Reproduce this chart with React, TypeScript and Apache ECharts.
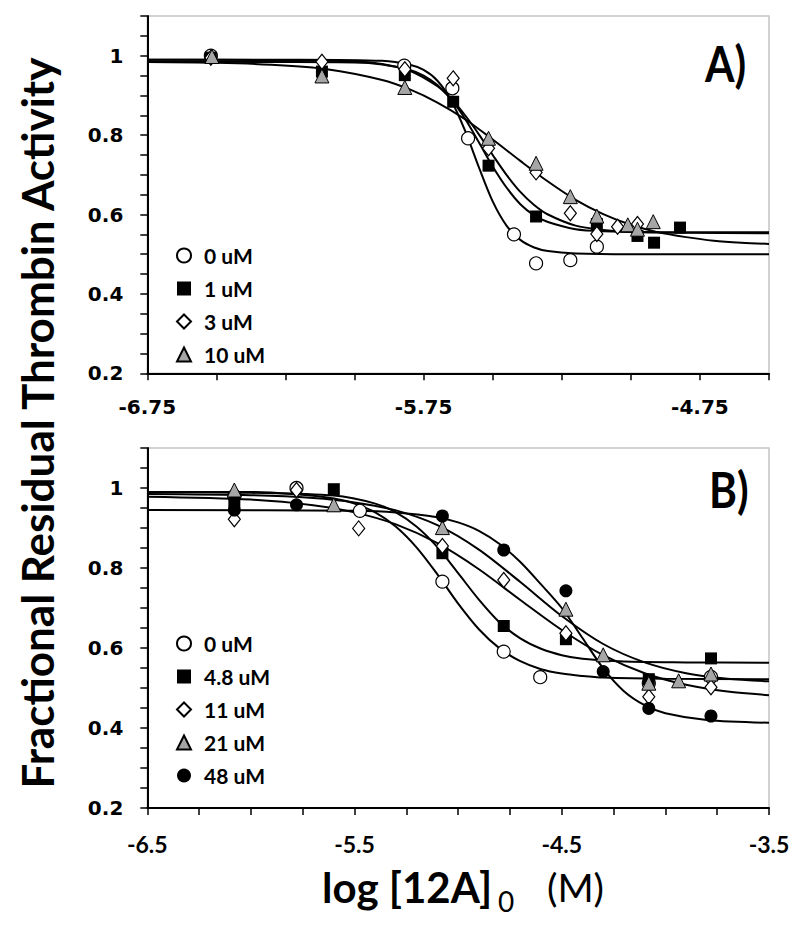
import React, { useEffect, useRef } from "react";
import * as echarts from "echarts";

// ---------- Panel A (x: log[12A]0, y: fractional activity) ----------
const A_0uM = [[-6.52, 1.0], [-5.82, 0.975], [-5.646, 0.918], [-5.589, 0.792], [-5.423, 0.55], [-5.343, 0.477], [-5.219, 0.485], [-5.123, 0.519]];
const A_1uM = [[-6.52, 0.995], [-6.118, 0.96], [-5.818, 0.951], [-5.643, 0.884], [-5.515, 0.723], [-5.343, 0.595], [-5.123, 0.576], [-4.976, 0.546], [-4.916, 0.529], [-4.822, 0.567]];
const A_3uM = [[-6.52, 0.995], [-6.118, 0.985], [-5.818, 0.966], [-5.643, 0.943], [-5.515, 0.767], [-5.343, 0.706], [-5.219, 0.603], [-5.123, 0.551], [-5.048, 0.569], [-4.976, 0.576]];
const A_10uM = [[-6.516, 0.998], [-6.118, 0.949], [-5.818, 0.92], [-5.515, 0.792], [-5.343, 0.729], [-5.219, 0.645], [-5.123, 0.596], [-5.011, 0.574], [-4.976, 0.563], [-4.919, 0.582]];

// fitted curves
const A_fit0 = [[-6.75, 0.99], [-6.2, 0.99], [-5.9, 0.987], [-5.8, 0.977], [-5.75, 0.964], [-5.7, 0.937], [-5.65, 0.887], [-5.6, 0.811], [-5.55, 0.719], [-5.5, 0.633], [-5.45, 0.572], [-5.4, 0.536], [-5.35, 0.517], [-5.3, 0.508], [-5.2, 0.502], [-5.0, 0.5], [-4.5, 0.5]];
const A_fit1 = [[-6.75, 0.985], [-6.3, 0.984], [-6.0, 0.983], [-5.9, 0.978], [-5.8, 0.964], [-5.75, 0.95], [-5.7, 0.926], [-5.65, 0.89], [-5.6, 0.841], [-5.55, 0.782], [-5.5, 0.721], [-5.45, 0.668], [-5.4, 0.626], [-5.35, 0.598], [-5.3, 0.581], [-5.2, 0.563], [-5.1, 0.558], [-4.9, 0.556], [-4.5, 0.555]];
const A_fit3 = [[-6.75, 0.99], [-6.3, 0.989], [-6.0, 0.986], [-5.9, 0.979], [-5.8, 0.962], [-5.7, 0.923], [-5.65, 0.891], [-5.6, 0.85], [-5.55, 0.802], [-5.5, 0.75], [-5.45, 0.7], [-5.4, 0.657], [-5.35, 0.624], [-5.3, 0.6], [-5.2, 0.572], [-5.1, 0.561], [-5.0, 0.556], [-4.8, 0.554], [-4.5, 0.553]];
const A_fit10 = [[-6.75, 0.984], [-6.5, 0.982], [-6.3, 0.977], [-6.1, 0.966], [-5.9, 0.939], [-5.8, 0.915], [-5.7, 0.882], [-5.6, 0.84], [-5.5, 0.789], [-5.4, 0.735], [-5.3, 0.683], [-5.2, 0.637], [-5.1, 0.601], [-5.0, 0.574], [-4.9, 0.555], [-4.8, 0.543], [-4.7, 0.534], [-4.6, 0.529], [-4.5, 0.526]];

// ---------- Panel B ----------
const B_0uM = [[-6.08, 0.98], [-5.78, 1.0], [-5.474, 0.943], [-5.076, 0.766], [-4.78, 0.591], [-4.604, 0.527], [-4.08, 0.512], [-3.78, 0.528]];
const B_4p8uM = [[-6.08, 0.966], [-5.6, 0.997], [-5.076, 0.837], [-4.78, 0.655], [-4.48, 0.622], [-4.08, 0.522], [-3.78, 0.574]];
const B_11uM = [[-6.08, 0.922], [-5.78, 0.995], [-5.48, 0.899], [-5.076, 0.855], [-4.78, 0.77], [-4.48, 0.637], [-4.08, 0.478], [-3.78, 0.502]];
const B_21uM = [[-6.08, 0.995], [-5.6, 0.958], [-5.076, 0.901], [-4.48, 0.697], [-4.3, 0.583], [-4.08, 0.512], [-3.936, 0.518], [-3.78, 0.535]];
const B_48uM = [[-6.08, 0.945], [-5.78, 0.958], [-5.076, 0.93], [-4.78, 0.845], [-4.48, 0.743], [-4.3, 0.541], [-4.08, 0.449], [-3.78, 0.43]];

const B_fit0 = [[-6.5, 0.99], [-6.0, 0.99], [-5.8, 0.985], [-5.6, 0.974], [-5.5, 0.961], [-5.4, 0.939], [-5.3, 0.903], [-5.2, 0.851], [-5.1, 0.784], [-5.0, 0.711], [-4.9, 0.647], [-4.8, 0.599], [-4.7, 0.567], [-4.6, 0.547], [-4.5, 0.536], [-4.4, 0.53], [-4.3, 0.526], [-4.0, 0.523], [-3.5, 0.522]];
const B_fit4p8 = [[-6.5, 0.99], [-6.0, 0.988], [-5.6, 0.981], [-5.4, 0.961], [-5.3, 0.939], [-5.2, 0.903], [-5.1, 0.852], [-5.0, 0.787], [-4.9, 0.721], [-4.8, 0.664], [-4.7, 0.624], [-4.6, 0.598], [-4.5, 0.582], [-4.4, 0.573], [-4.2, 0.566], [-3.9, 0.564], [-3.5, 0.563]];
const B_fit11 = [[-6.5, 0.978], [-6.0, 0.971], [-5.7, 0.957], [-5.5, 0.939], [-5.3, 0.909], [-5.1, 0.862], [-4.9, 0.797], [-4.7, 0.72], [-4.5, 0.645], [-4.3, 0.582], [-4.1, 0.537], [-3.9, 0.508], [-3.7, 0.491], [-3.5, 0.482]];
const B_fit21 = [[-6.5, 0.985], [-6.0, 0.982], [-5.7, 0.975], [-5.5, 0.964], [-5.3, 0.944], [-5.1, 0.907], [-4.9, 0.846], [-4.7, 0.765], [-4.5, 0.68], [-4.3, 0.61], [-4.1, 0.564], [-3.9, 0.537], [-3.7, 0.523], [-3.5, 0.517]];
const B_fit48 = [[-6.5, 0.945], [-5.5, 0.943], [-5.3, 0.939], [-5.1, 0.927], [-5.0, 0.914], [-4.9, 0.893], [-4.8, 0.86], [-4.7, 0.815], [-4.6, 0.759], [-4.5, 0.7], [-4.4, 0.625], [-4.3, 0.549], [-4.2, 0.492], [-4.1, 0.457], [-4.0, 0.437], [-3.8, 0.42], [-3.5, 0.413]];

// tick labels
const A_X_LABELS = [-6.75, -5.75, -4.75];
const B_X_LABELS = [-6.5, -5.5, -4.5, -3.5];
const Y_LABELS = [0.2, 0.4, 0.6, 0.8, 1];

const LEGEND_A = ["A|0 uM", "A|1 uM", "A|3 uM", "A|10 uM"];
const LEGEND_B = ["B|0 uM", "B|4.8 uM", "B|11 uM", "B|21 uM", "B|48 uM"];

const has = (arr: number[], v: number) => arr.some((l) => Math.abs(l - v) < 1e-6);

const openCircle = { symbol: "circle", symbolSize: 13, itemStyle: { color: "#fff", borderColor: "#000", borderWidth: 1.2, opacity: 1 } };
const blackSquare = { symbol: "rect", symbolSize: 12, itemStyle: { color: "#000", borderColor: "#000", borderWidth: 0, opacity: 1 } };
const openDiamond = { symbol: "diamond", symbolSize: [12, 15], itemStyle: { color: "#fff", borderColor: "#000", borderWidth: 1.2, opacity: 1 } };
const greyTriangle = { symbol: "triangle", symbolSize: 14, itemStyle: { color: "#a6a6a6", borderColor: "#000", borderWidth: 1, opacity: 1 } };
const blackCircle = { symbol: "circle", symbolSize: 13, itemStyle: { color: "#000", borderColor: "#000", borderWidth: 0, opacity: 1 } };

export default function App() {
  const ref = useRef<HTMLDivElement>(null);
  useEffect(() => {
    if (!ref.current) return;
    const chart = echarts.init(ref.current, null, { renderer: "svg" });

    const xAxisBase = (min: number, max: number, labels: number[], fontFamily: string, fontSize: number) => ({
      type: "value",
      min,
      max,
      interval: 0.25,
      splitLine: { show: false },
      axisLine: { show: true, onZero: false, lineStyle: { color: "#000", width: 2 } },
      axisTick: { show: true, inside: false, length: 7, lineStyle: { color: "#000", width: 1.5 } },
      axisLabel: {
        margin: 24,
        color: "#000",
        fontFamily,
        fontWeight: "bold",
        fontSize,
        showMinLabel: true,
        showMaxLabel: true,
        formatter: (v: number) => (has(labels, v) ? String(v) : ""),
      },
    });
    const yAxisBase = () => ({
      type: "value",
      min: 0.2,
      max: 1.1,
      interval: 0.05,
      splitLine: { show: false },
      axisLine: { show: true, onZero: false, lineStyle: { color: "#000", width: 2 } },
      axisTick: { show: true, inside: false, length: 7, lineStyle: { color: "#000", width: 1.5 } },
      axisLabel: {
        margin: 24,
        color: "#000",
        fontFamily: "DejaVu Sans",
        fontWeight: "bold",
        fontSize: 20,
        formatter: (v: number) => (has(Y_LABELS, v) ? String(Math.round(v * 10) / 10) : ""),
      },
    });

    const curve = (data: number[][], xi: number) => ({
      type: "line",
      xAxisIndex: xi,
      yAxisIndex: xi,
      data,
      smooth: 0.3,
      showSymbol: false,
      silent: true,
      z: 2,
      lineStyle: { color: "#000", width: 2 },
    });
    const pts = (name: string, data: number[][], xi: number, style: any) => ({
      type: "scatter",
      name,
      xAxisIndex: xi,
      yAxisIndex: xi,
      data,
      z: 3,
      ...style,
    });

    const legendBase = (data: string[], top: number) => ({
      data,
      orient: "vertical",
      left: 171,
      top,
      itemWidth: 14,
      itemHeight: 14,
      itemGap: 12,
      selectedMode: false,
      formatter: (n: string) => n.split("|")[1],
      textStyle: { fontFamily: "Lato", fontWeight: "bold", fontSize: 21, lineHeight: 21, color: "#000", padding: [0, 0, 0, 8] },
    });

    chart.setOption({
      animation: false,
      backgroundColor: "#fff",
      grid: [
        { left: 147.3, top: 16, width: 621.7, height: 357.3, show: true, borderColor: "#c4c4c4", borderWidth: 1.5, backgroundColor: "transparent" },
        { left: 147.3, top: 448, width: 621.7, height: 360, show: true, borderColor: "#c4c4c4", borderWidth: 1.5, backgroundColor: "transparent" },
      ],
      xAxis: [
        { ...xAxisBase(-6.75, -4.5, A_X_LABELS, "DejaVu Sans", 20), gridIndex: 0 },
        { ...xAxisBase(-6.5, -3.5, B_X_LABELS, "Lato", 23), gridIndex: 1 },
      ],
      yAxis: [
        { ...yAxisBase(), gridIndex: 0 },
        { ...yAxisBase(), gridIndex: 1 },
      ],
      legend: [legendBase(LEGEND_A, 240), legendBase(LEGEND_B, 628)],
      series: [
        curve(A_fit0, 0),
        curve(A_fit1, 0),
        curve(A_fit3, 0),
        curve(A_fit10, 0),
        pts(LEGEND_A[0], A_0uM, 0, openCircle),
        pts(LEGEND_A[1], A_1uM, 0, blackSquare),
        pts(LEGEND_A[2], A_3uM, 0, openDiamond),
        pts(LEGEND_A[3], A_10uM, 0, greyTriangle),
        curve(B_fit0, 1),
        curve(B_fit4p8, 1),
        curve(B_fit11, 1),
        curve(B_fit21, 1),
        curve(B_fit48, 1),
        pts(LEGEND_B[0], B_0uM, 1, openCircle),
        pts(LEGEND_B[1], B_4p8uM, 1, blackSquare),
        pts(LEGEND_B[2], B_11uM, 1, openDiamond),
        pts(LEGEND_B[3], B_21uM, 1, greyTriangle),
        pts(LEGEND_B[4], B_48uM, 1, blackCircle),
      ],
      graphic: [
        { type: "text", x: 705, y: 63, scaleX: 0.85, style: { text: "A)", font: "bold 50px Lato", fill: "#000", align: "left", verticalAlign: "middle" } },
        { type: "text", x: 709, y: 489, scaleX: 0.85, style: { text: "B)", font: "bold 50px Lato", fill: "#000", align: "left", verticalAlign: "middle" } },
        { type: "text", x: 37, y: 423, rotation: Math.PI / 2, style: { text: "Fractional Residual Thrombin Activity", font: "bold 44px Lato", fill: "#000", align: "center", verticalAlign: "middle" } },
        { type: "text", x: 322, y: 887, style: { text: "log [12A]", font: "bold 42px Lato", fill: "#000", align: "left", verticalAlign: "middle" } },
        { type: "text", x: 498, y: 901, style: { text: "0", font: "28px Lato", fill: "#000", align: "left", verticalAlign: "middle" } },
        { type: "text", x: 547, y: 887, style: { text: "(M)", font: "39px Lato", fill: "#000", align: "left", verticalAlign: "middle" } },
      ],
    });
    return () => chart.dispose();
  }, []);
  return <div ref={ref} style={{ position: "fixed", left: 0, top: 0, width: 800, height: 928, background: "#fff" }} />;
}
